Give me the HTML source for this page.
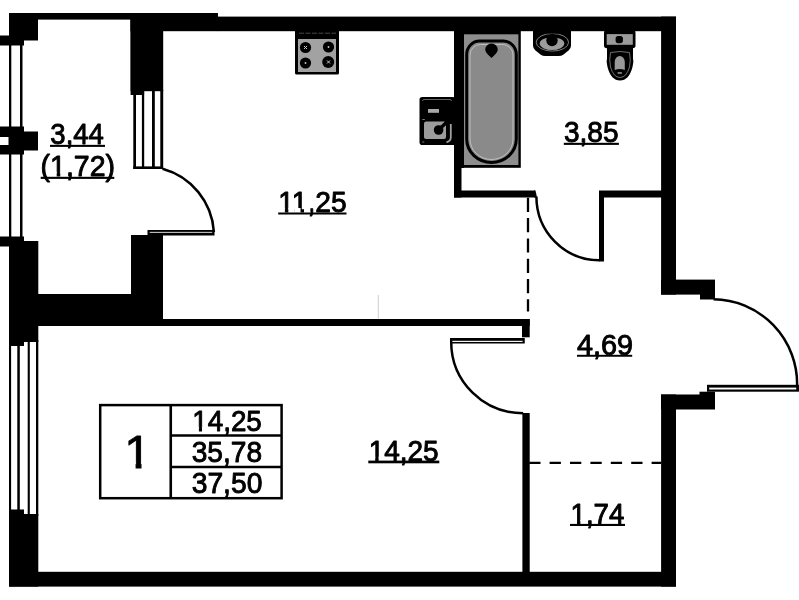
<!DOCTYPE html>
<html><head><meta charset="utf-8">
<style>
html,body{margin:0;padding:0;background:#fff;}
body{width:799px;height:600px;overflow:hidden;}
svg{display:block;}
text{font-family:"Liberation Sans",sans-serif;fill:#000;stroke:#000;stroke-width:0.9;stroke-linejoin:round;}
</style></head><body>
<svg width="799" height="600" viewBox="0 0 799 600">
<rect width="799" height="600" fill="#fff"/>
<!-- WALLS -->
<g fill="#000" id="walls">
<rect x="9" y="13" width="29" height="27.5"/>
<rect x="0" y="35.5" width="24" height="10"/>
<rect x="9" y="13" width="209" height="6.600"/>
<rect x="130.600" y="13" width="32.600" height="78.200"/>
<rect x="130.600" y="13" width="13.500" height="82"/>
<rect x="130.500" y="13" width="87" height="18.200"/>
<rect x="217" y="16.600" width="459" height="14.600"/>
<rect x="661.100" y="16.600" width="14.900" height="278"/>
<rect x="661" y="279.6" width="54" height="15"/>
<rect x="700" y="290" width="15" height="9.5"/>
<rect x="661" y="394.5" width="54" height="15"/>
<rect x="699.5" y="391.7" width="15.5" height="5"/>
<rect x="661.100" y="394.5" width="14.900" height="192.100"/>
<rect x="9" y="571.800" width="667" height="14.800"/>
<rect x="9" y="509.5" width="15" height="70"/>
<rect x="9" y="514" width="29.300" height="72.600"/>
<rect x="9" y="241" width="29.300" height="101"/>
<rect x="9" y="241" width="15" height="105"/>
<rect x="0" y="236.5" width="24" height="10"/>
<rect x="9" y="294" width="154" height="31.5"/>
<rect x="131" y="235" width="32" height="70"/>
<rect x="38" y="319" width="491.7" height="7"/>
<rect x="522" y="319" width="7.7" height="18.3"/>
<rect x="522.4" y="413" width="7.3" height="165"/>
<rect x="454" y="25" width="7.5" height="172.5"/>
<rect x="454" y="25" width="10" height="143"/>
<rect x="454" y="190.5" width="81" height="7"/>
<polygon points="534,190.5 535.5,190.5 537,197.5 534,197.5"/>
<rect x="599" y="190.5" width="65" height="7"/>
<rect x="599" y="191.500" width="5" height="70"/>
<rect x="0" y="126.5" width="24" height="28"/>
<rect x="20" y="131.5" width="18" height="19"/>
</g>
<rect x="0" y="137" width="8.5" height="8" fill="#fff"/>
<!-- WINDOWS -->
<g fill="#000" id="windows">
<rect x="9" y="44" width="2.3" height="84"/>
<rect x="20" y="44" width="2.5" height="84"/>
<rect x="9" y="153" width="2.3" height="85"/>
<rect x="20" y="153" width="2.5" height="85"/>
<rect x="9" y="340" width="2.100" height="172"/>
<rect x="17.300" y="340" width="2.500" height="172"/>
<rect x="27.700" y="340" width="2.100" height="176"/>
<rect x="36" y="340" width="2.300" height="176"/>
<rect x="133.3" y="90" width="2.7" height="79"/>
<rect x="141.900" y="90" width="2.300" height="79"/>
<rect x="152" y="90" width="2.800" height="79"/>
<rect x="160.300" y="90" width="2.900" height="79"/>
<rect x="133.3" y="166.4" width="29.7" height="2.6"/>
</g>
<!-- DOORS -->
<g fill="none" stroke="#000" stroke-width="2.5" id="doors">
<path d="M162.500,168.800 A69.900,69.900 0 0 1 213.900,232"/>
<path d="M536.400,196.500 A63,63.800 0 0 0 599.500,260.300"/>
<path d="M451.200,342 A72,71.300 0 0 0 523.200,413.300"/>
<path d="M713.500,299.300 A84.650,84.650 0 0 1 797.100,386"/>
</g>
<g id="leaves">
<rect x="147.5" y="230" width="67" height="5.5" fill="#000"/>
<rect x="149.7" y="231.85" width="62.5" height="1" fill="#d8d8d8"/>
<rect x="450" y="338" width="74.75" height="5.5" fill="#000"/>
<rect x="452.3" y="340.8" width="70.3" height="1.15" fill="#fff"/>
<rect x="707" y="384.8" width="92" height="6.9" fill="#000"/>
<rect x="709.2" y="387.6" width="87" height="1.9" fill="#fff"/>
</g>
<!-- DASHED -->
<line x1="528" y1="197.8" x2="528" y2="311.5" stroke="#000" stroke-width="2.3" stroke-dasharray="14.2 6.1"/>
<line x1="529.2" y1="462.9" x2="661" y2="462.9" stroke="#000" stroke-width="2.2" stroke-dasharray="11.3 9.1"/>
<line x1="378.3" y1="295" x2="378.3" y2="318.800" stroke="#b8b8b8" stroke-width="0.7"/>
<!-- STOVE -->
<g id="stove">
<rect x="295" y="30" width="44" height="44.5" rx="1.5" fill="#000"/>
<rect x="298" y="39" width="38" height="33" fill="#a2a2a2"/>
<line x1="299" y1="33.2" x2="336" y2="33.2" stroke="#666" stroke-width="0.7" stroke-dasharray="5 1.5"/>
<circle cx="305.5" cy="47.5" r="5.6" fill="#000"/>
<circle cx="328.5" cy="47" r="5.6" fill="#000"/>
<circle cx="305.5" cy="63" r="5.6" fill="#000"/>
<circle cx="328.2" cy="62" r="6" fill="#000"/>
<path d="M304,46 l3,3 m0,-3 l-3,3 M327,60.500 l3,3 m0,-3 l-3,3" stroke="#ccc" stroke-width="1" fill="none"/>
<circle cx="328.5" cy="47" r="0.9" fill="#ccc"/>
<circle cx="305.5" cy="63" r="0.9" fill="#ccc"/>
</g>
<!-- KITCHEN SINK -->
<g id="ksink">
<rect x="419.5" y="97" width="36" height="48" rx="2.8" fill="#000"/>
<path d="M422.5,101 Q422.5,99.5 424,99.5 H450 Q451.5,99.5 451.5,101" fill="none" stroke="#8a8a8a" stroke-width="0.7"/>
<rect x="428" y="109" width="11" height="3.8" fill="#a8a8a8"/>
<path d="M422.3,119.500 h2.500 M422.3,142 h2" stroke="#999" stroke-width="0.8"/>
<rect x="424" y="121.500" width="22" height="17.600" rx="2" fill="#9c9c9c"/>
<path d="M450.800,124 V137.500 Q450.800,141 446.500,142.300" fill="none" stroke="#a0a0a0" stroke-width="1.800"/>
<circle cx="438.600" cy="130" r="4.800" fill="#000"/>
<path d="M440,128.500 L447.500,121.500" stroke="#000" stroke-width="3.400"/>
</g>
<!-- TUB -->
<g id="tub">
<rect x="461.5" y="31" width="59.3" height="136.8" fill="#000"/>
<rect x="464" y="34.3" width="54.4" height="130.7" fill="#8e8e8e"/>
<path d="M466.7,139 V54.5 A13,13.5 0 0 1 479.700,41 H503.3 A13,13.5 0 0 1 516.300,54.5 V139 A24.800,23.500 0 0 1 466.700,139 Z" fill="#8a8a8a" stroke="#000" stroke-width="3"/>
<path d="M470,139 V55 A10.5,10.5 0 0 1 480.5,44.500 H502.5 A10.5,10.5 0 0 1 513,55 V139 A21.500,20.500 0 0 1 470,139 Z" fill="none" stroke="#c4c4c4" stroke-width="0.9"/>
<path d="M491.500,43.500 a6.300,6 0 0 1 6.300,6 q0,3 -6.300,8.500 q-6.300,-5.500 -6.300,-8.500 a6.300,6 0 0 1 6.300,-6 z" fill="#000"/>
</g>
<!-- BASIN -->
<g id="basin">
<path d="M533,30 H571 V45.500 Q571,48.500 568.500,50.500 L563.500,54.500 Q561.500,56 558.500,56 H545.500 Q542.500,56 540.500,54.500 L535.500,50.500 Q533,48.500 533,45.500 Z" fill="#000"/>
<ellipse cx="552.4" cy="42.300" rx="16.200" ry="8.800" fill="none" stroke="#8c8c8c" stroke-width="0.9"/>
<rect x="540" y="30" width="25" height="3.600" fill="#000"/>
<ellipse cx="552" cy="43.600" rx="12.300" ry="6.400" fill="#9c9c9c"/>
<ellipse cx="552" cy="40.300" rx="5.700" ry="6" fill="#000"/>
</g>
<!-- TOILET -->
<g id="toilet">
<rect x="604" y="30" width="31.500" height="18.300" rx="2.800" fill="#000"/>
<rect x="606.700" y="34.100" width="26.100" height="10.700" fill="#9a9a9a"/>
<rect x="615.600" y="35.900" width="7.300" height="7.300" rx="2.600" fill="#000"/>
<path d="M607,47 H633 V58 Q634,62 632.500,67 Q629,80.500 620,80.500 Q611,80.500 607.500,67 Q606,62 607,58 Z" fill="#000"/>
<path d="M610.500,52.500 Q620,50.500 629.500,52.500 Q631,60 629.500,67 Q626.500,77.500 620,77.500 Q613.500,77.500 610.500,67 Q609,60 610.500,52.500 Z" fill="none" stroke="#8a8a8a" stroke-width="0.8"/>
<path d="M614.700,69.900 V62 A5.050,6 0 0 1 624.800,62 V69.900 Q619.750,68.300 614.700,69.900 Z" fill="#9a9a9a"/>
<rect x="617.600" y="72.300" width="4.300" height="1.300" fill="#b0b0b0"/>
</g>
<!-- LEGEND -->
<g id="legend" fill="none" stroke="#000" stroke-width="2.5">
<rect x="100.200" y="405.100" width="181.400" height="93.100"/>
<line x1="170.750" y1="405" x2="170.750" y2="498.500" stroke-width="2.6"/>
<line x1="170.750" y1="435.500" x2="281.500" y2="435.500"/>
<line x1="170.750" y1="466.950" x2="281.500" y2="466.950" stroke-width="2.4"/>
</g>
<!-- TEXT -->
<g id="labels" opacity="0.999">
<text transform="translate(50.34,144.40) scale(0.9836,1.0400)" font-size="28" stroke-width="0.75">3,44</text>
<text transform="translate(40.56,176.00) scale(1.0181,1.0400)" font-size="28" stroke-width="0.75">(1,72)</text>
<text transform="translate(278.27,211.80) scale(1.0056,1.0400)" font-size="28" stroke-width="0.65">11,25</text>
<text transform="translate(563.99,142.50) scale(1.0016,1.0400)" font-size="28" stroke-width="0.65">3,85</text>
<text transform="translate(577.01,354.70) scale(1.0287,1.0400)" font-size="28" stroke-width="0.65">4,69</text>
<text transform="translate(368.63,460.50) scale(1.0001,1.0400)" font-size="28" stroke-width="0.65">14,25</text>
<text transform="translate(570.51,523.70) scale(0.9878,1.0400)" font-size="28" stroke-width="0.65">1,74</text>
<text transform="translate(192.23,430.70) scale(0.9938,1.0400)" font-size="28" stroke-width="0.35">14,25</text>
<text transform="translate(191.69,462.20) scale(1.0041,1.0400)" font-size="28" stroke-width="0.35">35,78</text>
<text transform="translate(191.68,493.40) scale(1.0103,1.0400)" font-size="28" stroke-width="0.35">37,50</text>
<text transform="translate(124.30,468.00) scale(1.0360,1.0000)" font-size="46.5" stroke-width="1.3">1</text>
</g>
<g id="footmasks" fill="#fff">
<rect x="50.48" y="172.13" width="6.22" height="5.56"/>
<rect x="60.28" y="172.13" width="6.52" height="5.56"/>
<rect x="278.77" y="207.99" width="6.11" height="5.45"/>
<rect x="288.32" y="207.99" width="6.37" height="5.45"/>
<rect x="294.42" y="207.99" width="6.11" height="5.45"/>
<rect x="303.98" y="207.99" width="6.37" height="5.45"/>
<rect x="369.11" y="456.69" width="6.08" height="5.45"/>
<rect x="378.62" y="456.69" width="6.34" height="5.45"/>
<rect x="570.97" y="519.89" width="6.03" height="5.45"/>
<rect x="580.38" y="519.89" width="6.28" height="5.45"/>
<rect x="193.00" y="427.04" width="5.90" height="5.14"/>
<rect x="202.01" y="427.04" width="6.01" height="5.14"/>
<rect x="125.67" y="462.58" width="9.92" height="7.37"/>
<rect x="141.50" y="462.58" width="10.37" height="7.37"/>
</g>
<g id="underlines" fill="#000">
<rect x="50" y="144.85" width="55.00" height="2.05"/>
<rect x="40.7" y="176.8" width="73.60" height="2.1"/>
<rect x="278.2" y="212.5" width="68.30" height="2.0"/>
<rect x="563.8" y="142.8" width="55.10" height="2.1"/>
<rect x="577" y="354.8" width="55.20" height="1.95"/>
<rect x="368.3" y="460.6" width="71.00" height="2.7"/>
<rect x="570" y="523.9" width="55.00" height="2.1"/>
</g>
</svg>
</body></html>
